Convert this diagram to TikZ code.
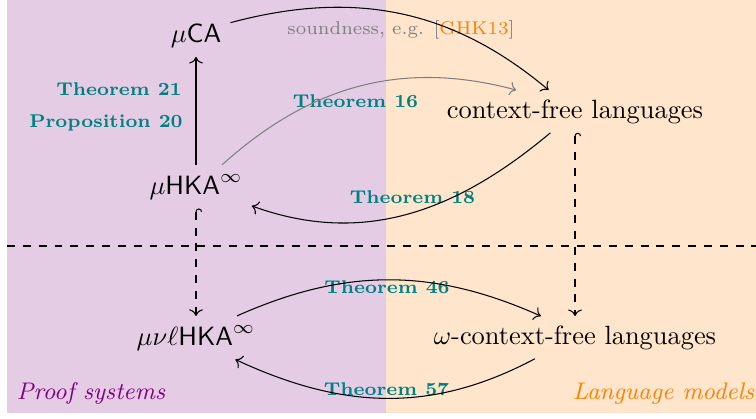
\documentclass[tikz,border=0pt]{standalone}
\usetikzlibrary{arrows.meta}
\tikzset{
  thm/.style={teal, font=\fontsize{7.0}{9}\selectfont\bfseries},
  sidelabel/.style={font=\fontsize{9.1}{11}\selectfont\itshape},
  hookdash/.style={dashed, {Hooks[right]}->},
}
\begin{document}
\begin{tikzpicture}[x=0.37879pt,y=-0.37879pt]
\useasboundingbox (0,0) rectangle (756,418);
\fill[violet!20] (7,0) rectangle (386,413);
\fill[orange!20] (386,0) rectangle (756,413);
\coordinate (sepL) at (7,246);
\coordinate (sepR) at (756,246);
\draw[dashed] (sepL) -- (sepR);

\node[anchor=base] (muca) at (196,42.5) {$\mu\mathsf{CA}$};
\node[anchor=base] (muhka) at (196,194) {$\mu\mathsf{HKA}^\infty$};
\node[anchor=base] (munu) at (196,345) {$\mu\nu\ell\mathsf{HKA}^\infty$};
\node[anchor=base] (cfl) at (575,118) {context-free languages};
\node[anchor=base] (ocfl) at (575,344) {$\omega$-context-free languages};
\node[sidelabel, anchor=base, violet] (ps) at (91,399) {Proof systems};
\node[sidelabel, anchor=base, orange] (lm) at (663.5,399) {Language models};

\node[anchor=base, gray, font=\fontsize{7.0}{9}\selectfont] (snd) at (401,34) {soundness, e.g. [\textcolor{orange}{GHK13}]};
\node[thm, anchor=base east] (t21) at (191,95) {Theorem 21};
\node[thm, anchor=base east] (p20) at (192,127) {Proposition 20};
\node[thm, anchor=base] (t16) at (355.5,107) {Theorem 16};
\node[thm, anchor=base] (t18) at (412.5,203) {Theorem 18};
\node[thm, anchor=base] (t46) at (387,293) {Theorem 46};
\node[thm, anchor=base] (t57) at (386.5,395) {Theorem 57};

\draw[->] (muca.21) to[out=15,in=140] (cfl.141);
\draw[->, gray] (muhka.40) to[out=42,in=165] (cfl.160);
\draw[->] (cfl.221) to[out=220,in=-20] (muhka.-19);
\draw[->] (muhka.north) -- (muca.south);
\draw[hookdash] (muhka.south) -- (munu.north);
\draw[hookdash] (cfl.south) -- (ocfl.north);
\draw[->] (munu.28) to[out=24,in=156] (ocfl.148);
\draw[->] (ocfl.208) to[out=208,in=-25] (munu.-29);
\end{tikzpicture}
\end{document}
